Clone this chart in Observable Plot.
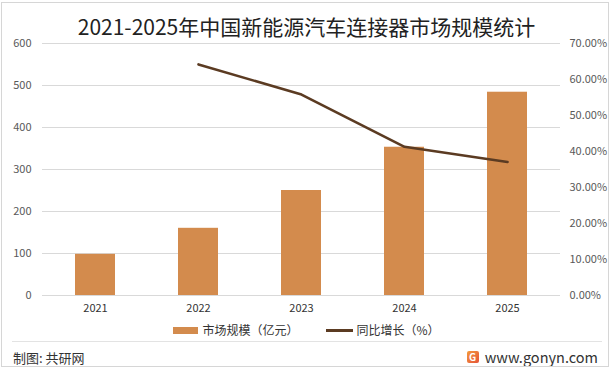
<!DOCTYPE html>
<html>
<head>
<meta charset="utf-8">
<script src="https://cdn.jsdelivr.net/npm/d3@7"></script>
<script src="https://cdn.jsdelivr.net/npm/@observablehq/plot@0.6"></script>
<style>
  html, body { margin: 0; padding: 0; background: #fff; }
  body { font-family: "Noto Sans CJK SC", "Noto Sans", sans-serif; }
  #wrap { position: relative; width: 613px; height: 372px; overflow: hidden; }
  #frame { position: absolute; left: 1px; top: 2px; width: 606px; height: 363px; border: 1px solid #d6d6d6; pointer-events: none; }
  #title { position: absolute; left: 0; width: 613px; top: 11px; text-align: center; font-size: 21px; color: #222; line-height: 30px; }
  #legend { position: absolute; left: 0; width: 613px; top: 321px; display: flex; justify-content: center; align-items: center; font-size: 12px; color: #333; line-height: 18px; }
  .sw-bar { display: inline-block; width: 25px; height: 7px; margin-right: 4px; }
  .sw-line { display: inline-block; width: 27px; height: 3px; margin-right: 3px; margin-left: 28px; }
  #sep { position: absolute; left: 12px; width: 590px; top: 341px; height: 1px; background: #e3e3e3; }
  #src { position: absolute; left: 13px; top: 348px; font-size: 13px; color: #333; line-height: 20px; }
  #site { position: absolute; right: 15px; top: 346px; font-size: 14.5px; color: #333; line-height: 22px; display: flex; align-items: center; }
  .logo { display: inline-block; width: 12px; height: 12px; background: linear-gradient(135deg, #f39a3c, #e5533a); color: #fff; font-size: 10px; line-height: 12px; text-align: center; font-weight: bold; margin-right: 6px; border-radius: 2px; }
</style>
</head>
<body>
<div id="wrap">
  <div id="chart"></div>
  <div id="title"></div>
  <div id="legend"></div>
  <div id="sep"></div>
  <div id="src"></div>
  <div id="site"></div>
  <div id="frame"></div>
</div>
<script>
const years = ["2021", "2022", "2023", "2024", "2025"];
const marketSize = [98, 160, 250, 353, 484];            // 市场规模（亿元）
const growthYears = ["2022", "2023", "2024", "2025"];
const growthPct = [64.2, 55.8, 41.3, 37.1];              // 同比增长（%）
const leftTicks = [0, 100, 200, 300, 400, 500, 600];
const rightTicks = [0, 10, 20, 30, 40, 50, 60, 70];
const titleText = "2021-2025年中国新能源汽车连接器市场规模统计";
const seriesNames = ["市场规模（亿元）", "同比增长（%）"];
const sourceText = "制图: 共研网";
const siteText = "www.gonyn.com";

const barColor = "#d38b4d";
const lineColor = "#5b3b22";
const leftMax = 600, rightMax = 70;
const toLeft = p => p * leftMax / rightMax;

const barData = years.map((y, i) => ({year: y, value: marketSize[i]}));
const lineData = growthYears.map((y, i) => ({year: y, pct: growthPct[i]}));

const chart = Plot.plot({
  width: 613,
  height: 372,
  marginLeft: 42,
  marginRight: 53,
  marginTop: 43,
  marginBottom: 77,
  style: {fontFamily: "'Noto Sans CJK SC', 'Noto Sans', sans-serif", fontSize: "11px", color: "#595959", background: "transparent"},
  x: {domain: years, type: "band", paddingInner: 0.61, paddingOuter: 0.305},
  y: {domain: [0, leftMax]},
  marks: [
    Plot.gridY(leftTicks, {stroke: "#d9d9d9", strokeOpacity: 1}),
    Plot.barY(barData, {x: "year", y: "value", fill: barColor}),
    Plot.line(lineData, {x: "year", y: d => toLeft(d.pct), stroke: lineColor, strokeWidth: 2.6, curve: "linear"}),
    Plot.axisY(leftTicks, {anchor: "left", tickSize: 0, tickPadding: 11, label: null, fill: "#595959"}),
    Plot.axisY(rightTicks.map(toLeft), {anchor: "right", tickSize: 0, tickPadding: 9, label: null, fill: "#595959",
      tickFormat: d => (d * rightMax / leftMax).toFixed(2) + "%"}),
    Plot.axisX({tickSize: 0, tickPadding: 9, label: null, fill: "#333"})
  ]
});
document.getElementById("chart").appendChild(chart);

document.getElementById("title").textContent = titleText;
const legend = document.getElementById("legend");
legend.innerHTML = `<span class="sw-bar" style="background:${barColor}"></span><span>${seriesNames[0]}</span>` +
  `<span class="sw-line" style="background:${lineColor}"></span><span>${seriesNames[1]}</span>`;
document.getElementById("src").textContent = sourceText;
document.getElementById("site").innerHTML = `<span class="logo">G</span><span>${siteText}</span>`;
</script>
</body>
</html>
